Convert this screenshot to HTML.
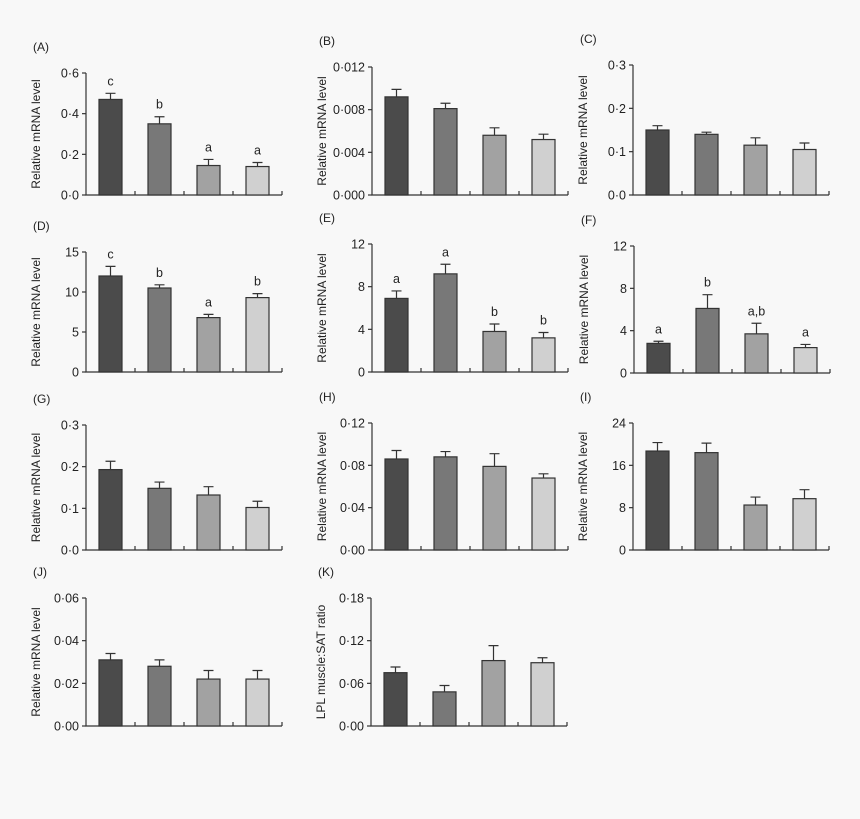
<!DOCTYPE html>
<html><head><meta charset="utf-8">
<style>
html,body{margin:0;padding:0;background:#f8f8f8;}
svg{display:block;font-family:"Liberation Sans",sans-serif;}
</style></head>
<body>
<svg id="fig" width="860" height="819" viewBox="0 0 860 819" xmlns="http://www.w3.org/2000/svg">
<rect x="0" y="0" width="860" height="819" fill="#f8f8f8"/>
</svg>
<script>
const panelIds = ["A","B","C","D","E","F","G","H","I","J","K"];
const valsA = [0.47,0.35,0.145,0.14];      const errA = [0.03,0.035,0.03,0.02];    const letA = ["c","b","a","a"];
const valsB = [0.0092,0.0081,0.0056,0.0052]; const errB = [0.0007,0.0005,0.0007,0.0005]; const letB = ["","","",""];
const valsC = [0.15,0.14,0.115,0.105];     const errC = [0.01,0.005,0.017,0.015];  const letC = ["","","",""];
const valsD = [12,10.5,6.8,9.3];           const errD = [1.2,0.4,0.4,0.5];         const letD = ["c","b","a","b"];
const valsE = [6.9,9.2,3.8,3.2];           const errE = [0.7,0.9,0.7,0.5];         const letE = ["a","a","b","b"];
const valsF = [2.8,6.1,3.7,2.4];           const errF = [0.2,1.3,1.0,0.3];         const letF = ["a","b","a,b","a"];
const valsG = [0.193,0.148,0.132,0.102];   const errG = [0.02,0.015,0.02,0.015];   const letG = ["","","",""];
const valsH = [0.086,0.088,0.079,0.068];   const errH = [0.008,0.005,0.012,0.004]; const letH = ["","","",""];
const valsI = [18.7,18.4,8.5,9.7];         const errI = [1.6,1.8,1.5,1.7];         const letI = ["","","",""];
const valsJ = [0.031,0.028,0.022,0.022];   const errJ = [0.003,0.003,0.004,0.004]; const letJ = ["","","",""];
const valsK = [0.075,0.048,0.092,0.089];   const errK = [0.008,0.009,0.021,0.007]; const letK = ["","","",""];
const ticksA = ["0·0","0·2","0·4","0·6"];
const ticksB = ["0·000","0·004","0·008","0·012"];
const ticksC = ["0·0","0·1","0·2","0·3"];
const ticksD = ["0","5","10","15"];
const ticksE = ["0","4","8","12"];
const ticksF = ["0","4","8","12"];
const ticksG = ["0·0","0·1","0·2","0·3"];
const ticksH = ["0·00","0·04","0·08","0·12"];
const ticksI = ["0","8","16","24"];
const ticksJ = ["0·00","0·02","0·04","0·06"];
const ticksK = ["0·00","0·06","0·12","0·18"];
const maxA=0.6,maxB=0.012,maxC=0.3,maxD=15,maxE=12,maxF=12,maxG=0.3,maxH=0.12,maxI=24,maxJ=0.06,maxK=0.18;

const data = {
 A:[valsA,errA,letA,ticksA,maxA], B:[valsB,errB,letB,ticksB,maxB], C:[valsC,errC,letC,ticksC,maxC],
 D:[valsD,errD,letD,ticksD,maxD], E:[valsE,errE,letE,ticksE,maxE], F:[valsF,errF,letF,ticksF,maxF],
 G:[valsG,errG,letG,ticksG,maxG], H:[valsH,errH,letH,ticksH,maxH], I:[valsI,errI,letI,ticksI,maxI],
 J:[valsJ,errJ,letJ,ticksJ,maxJ], K:[valsK,errK,letK,ticksK,maxK]
};
// layout (not data)
const layout = {
 A:[86,73,195],B:[372,67,195],C:[633,65,195],
 D:[86,252,372],E:[372,244,372],F:[634,246,373],
 G:[86,425,550],H:[372,423,550],I:[633,423,550],
 J:[86,598,726],K:[371,598,726]
};
const fills=["#4b4b4b","#787878","#a2a2a2","#d0d0d0"];
const NS="http://www.w3.org/2000/svg";
const svg=document.getElementById("fig");
function mk(tag,attrs,parent){const e=document.createElementNS(NS,tag);for(const k in attrs)e.setAttribute(k,attrs[k]);(parent||svg).appendChild(e);return e;}

panelIds.forEach(id=>{
  const [vals,errs,lets,ticks,ymax]=data[id];
  const [ax,top,bot]=layout[id];
  const W=196, pitch=49;
  const g=mk("g",{});
  
  
  const y=v=>bot-(v/ymax)*(bot-top);
  const lbl=mk("text",{x:ax-53,y:top-22,"font-size":"12",fill:"#222"},g);
  lbl.textContent="("+id+")";
  
  
  const tx=ax-46, ty=(top+bot)/2;
  const t=mk("text",{x:tx,y:ty,"font-size":"12",fill:"#222","text-anchor":"middle",transform:`rotate(-90 ${tx} ${ty})`},g);
  t.textContent= id==="K" ? "LPL muscle:SAT ratio" : "Relative mRNA level";
  
  
  const axes=mk("path",{d:`M${ax},${top} V${bot} H${ax+W}`,stroke:"#333","stroke-width":"1.2",fill:"none"},g);
  
  
  ticks.forEach((tl,i)=>{
    const v=ymax*i/(ticks.length-1); const yy=y(v);
    const tk=mk("line",{x1:ax-4,x2:ax,y1:yy,y2:yy,stroke:"#333","stroke-width":"1.2"},g);
    
    
    const tt=mk("text",{x:ax-7,y:yy+4.5,"font-size":"12.5",fill:"#222","text-anchor":"end"},g);
    tt.textContent=tl;
    
    
  });
  for(let k=1;k<=4;k++){
    const xx=ax+k*pitch;
    const xt=mk("line",{x1:xx,x2:xx,y1:bot-4,y2:bot,stroke:"#333","stroke-width":"1.2"},g);
    
    
  }
  vals.forEach((v,i)=>{
    const bx=ax+13+i*pitch, bw=23, by=y(v);
    const eTop=y(v+errs[i]), cx=bx+bw/2;
    const el=mk("path",{d:`M${cx},${by} V${eTop} M${cx-5},${eTop} H${cx+5}`,stroke:"#333","stroke-width":"1.2",fill:"none"},g);
    
    
    const r=mk("rect",{x:bx,y:by,width:bw,height:bot-by,fill:fills[i],stroke:"#333","stroke-width":"1.2"},g);
    
    
    if(lets[i]){
      const lt=mk("text",{x:cx,y:eTop-8,"font-size":"12.5",fill:"#222","text-anchor":"middle"},g);
      lt.textContent=lets[i];
      
      
    }
  });
});
</script>
</body></html>
